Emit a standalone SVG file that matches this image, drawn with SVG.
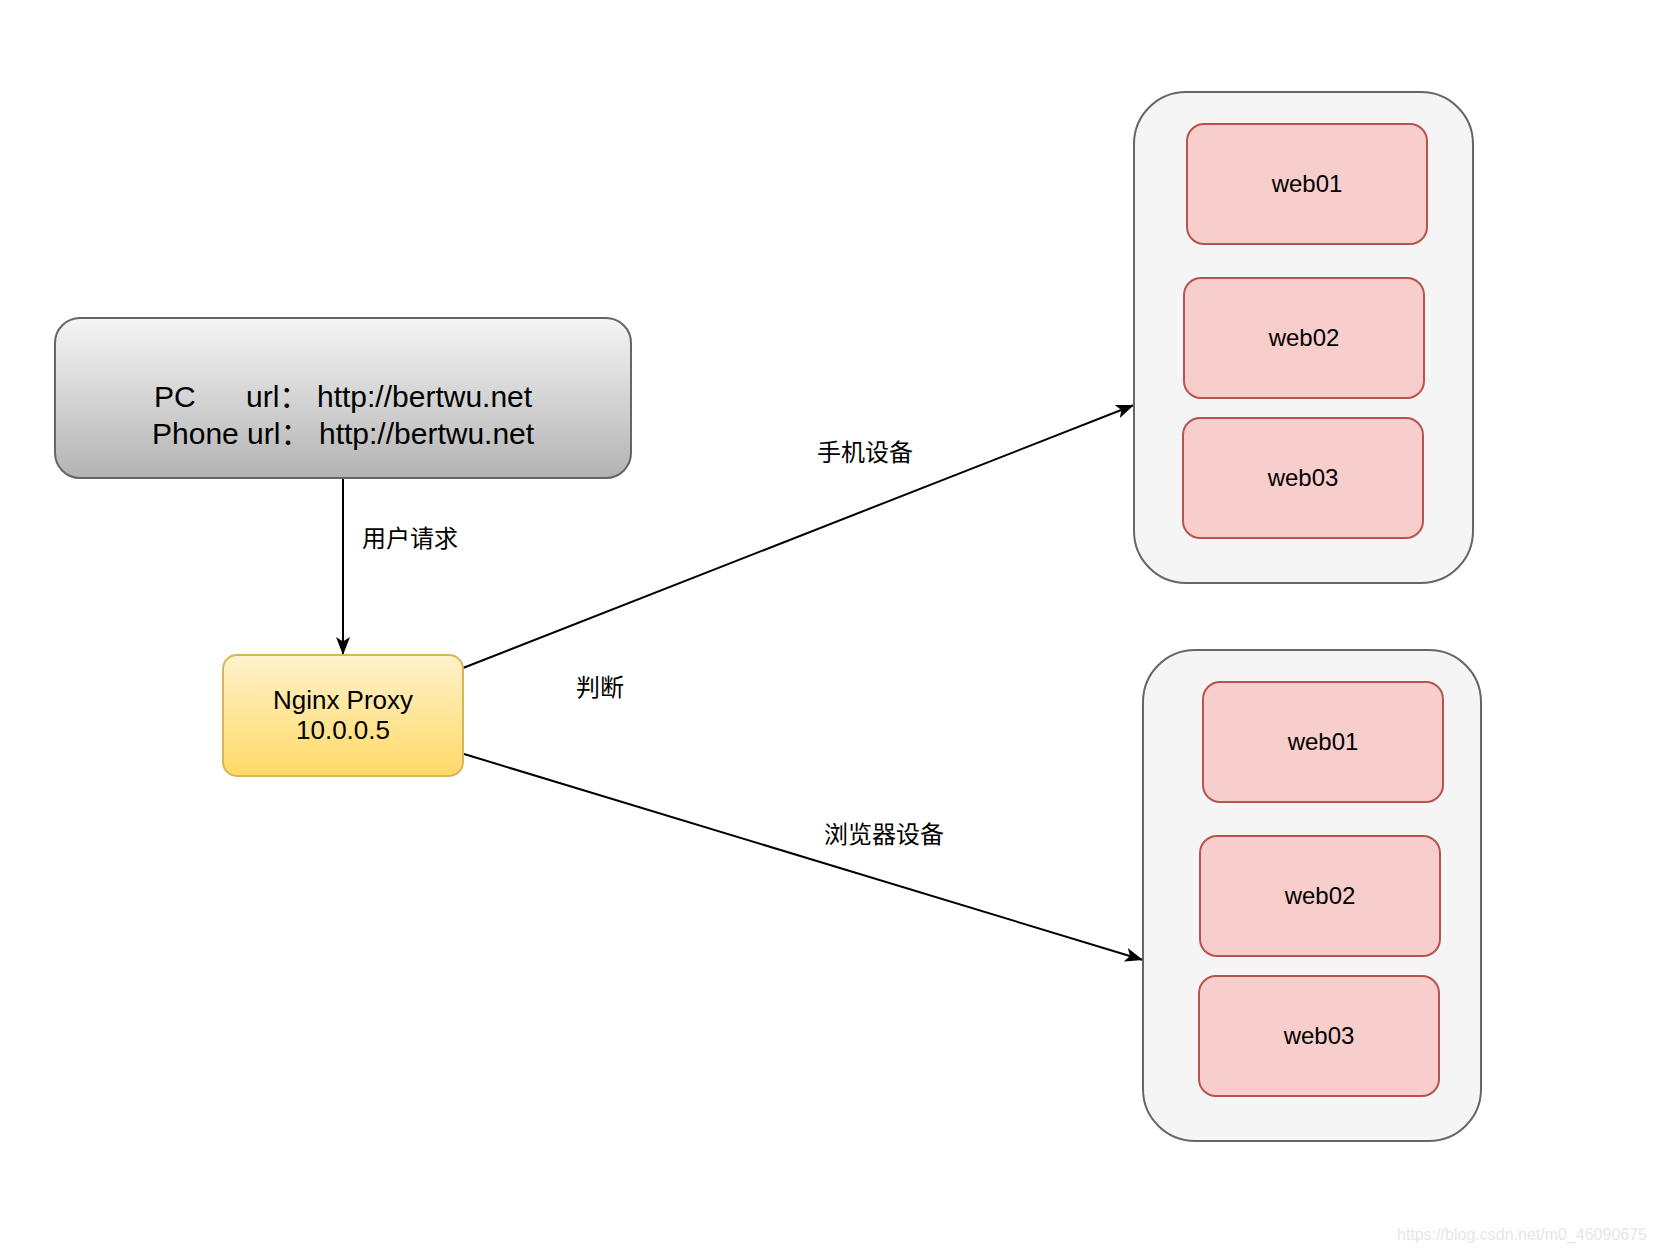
<svg xmlns="http://www.w3.org/2000/svg" width="1655" height="1253" viewBox="0 0 1655 1253">
<style>
.lat{font-family:"Liberation Sans","Noto Sans CJK SC",sans-serif;fill:#000}
.cjk{font-family:"Noto Sans CJK SC","Liberation Sans",sans-serif;font-size:24px;fill:#000}
.cont{fill:#f5f5f5;stroke:#666666;stroke-width:2}
.web{fill:#f8cecc;stroke:#b85450;stroke-width:2}
.web-t{font-size:24px;text-anchor:middle}
.conn{stroke:#000;stroke-width:2;fill:none;marker-end:url(#arr)}
</style>
<defs>
<linearGradient id="gGray" x1="0" y1="0" x2="0" y2="1"><stop offset="0" stop-color="#f5f5f5"/><stop offset="1" stop-color="#b3b3b3"/></linearGradient>
<linearGradient id="gYel" x1="0" y1="0" x2="0" y2="1"><stop offset="0" stop-color="#fff2cc"/><stop offset="1" stop-color="#ffd966"/></linearGradient>
<marker id="arr" viewBox="0 0 18 14" refX="18" refY="7" markerWidth="18" markerHeight="14" markerUnits="userSpaceOnUse" orient="auto"><path d="M0,0 L18,7 L0,14 L4.5,7 Z" fill="#000"/></marker>
</defs>
<rect width="1655" height="1253" fill="#fff"/>
<g id="connectors">
<line class="conn" x1="343" y1="478" x2="343" y2="655"/>
<line class="conn" x1="463" y1="668" x2="1134" y2="405"/>
<line class="conn" x1="464" y1="754" x2="1143" y2="960"/>
<text class="cjk" x="362" y="547">用户请求</text>
<text class="cjk" x="817" y="461">手机设备</text>
<text class="cjk" x="576" y="696">判断</text>
<text class="cjk" x="824" y="843">浏览器设备</text>
</g>
<g id="client">
<rect x="55" y="318" width="576" height="160" rx="25" fill="url(#gGray)" stroke="#666666" stroke-width="2"/>
<text class="lat" font-size="30" xml:space="preserve"><tspan x="154" y="407">PC</tspan><tspan x="246" y="407">url：</tspan><tspan x="317" y="407">http://bertwu.net</tspan><tspan x="152" y="444">Phone url：</tspan><tspan x="319" y="444">http://bertwu.net</tspan></text>
</g>
<g id="nginx">
<rect x="223" y="655" width="240" height="121" rx="14" fill="url(#gYel)" stroke="#d6b656" stroke-width="2"/>
<text class="lat" font-size="26" text-anchor="middle"><tspan x="343" y="709">Nginx Proxy</tspan><tspan x="343" y="739">10.0.0.5</tspan></text>
</g>
<g id="group-top">
<rect class="cont" x="1134" y="92" width="339" height="491" rx="52"/>
</g>
<g id="top-web01"><rect class="web" x="1187" y="124" width="240" height="120" rx="17"/><text class="lat web-t" x="1307" y="192">web01</text></g>
<g id="top-web02"><rect class="web" x="1184" y="278" width="240" height="120" rx="17"/><text class="lat web-t" x="1304" y="346">web02</text></g>
<g id="top-web03"><rect class="web" x="1183" y="418" width="240" height="120" rx="17"/><text class="lat web-t" x="1303" y="486">web03</text></g>
<g id="group-bottom">
<rect class="cont" x="1143" y="650" width="338" height="491" rx="52"/>
</g>
<g id="bot-web01"><rect class="web" x="1203" y="682" width="240" height="120" rx="17"/><text class="lat web-t" x="1323" y="750">web01</text></g>
<g id="bot-web02"><rect class="web" x="1200" y="836" width="240" height="120" rx="17"/><text class="lat web-t" x="1320" y="904">web02</text></g>
<g id="bot-web03"><rect class="web" x="1199" y="976" width="240" height="120" rx="17"/><text class="lat web-t" x="1319" y="1044">web03</text></g>
<text class="lat" font-size="16" style="fill:#e6e6e6" x="1647" y="1240" text-anchor="end">https://blog.csdn.net/m0_46090675</text>
</svg>
